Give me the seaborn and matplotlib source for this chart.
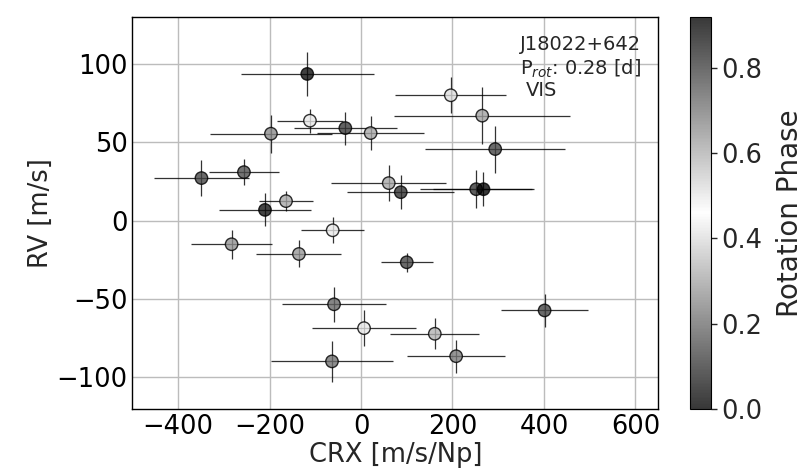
import numpy as np
import pandas as pd
import matplotlib
matplotlib.use("Agg")
import matplotlib.pyplot as plt
import seaborn as sns
from matplotlib.colors import LinearSegmentedColormap, Normalize
from matplotlib.cm import ScalarMappable

# Data
crx = [-117.6, -111.7, -34.3, -197.0, 21.0, -348.9, -256.0, -210.0, -164.0,
       196.3, 265.0, 293.4, 60.6, 86.9, 251.8, 267.8,
       -62.0, -283.0, -135.8, -59.0, 6.6, -63.5,
       100.0, 401.4, 161.3, 208.0]
crx_err = [145, 73, 112, 133, 117, 104, 76, 101, 59,
           121, 193, 153, 126, 117, 122, 111,
           69, 89, 93, 113, 113, 133,
           57, 96, 97, 107]
rv = [93.5, 63.7, 59.0, 55.4, 55.8, 27.1, 30.9, 6.8, 12.4,
      79.9, 66.9, 45.6, 23.9, 18.1, 20.0, 20.0,
      -6.2, -15.1, -21.3, -53.4, -68.6, -89.8,
      -26.6, -57.3, -72.2, -86.5]
rv_err = [14, 7.7, 10.5, 12, 11, 11.5, 8.4, 10.5, 6.4,
          11.4, 18, 15, 11.7, 11, 12, 11,
          8.3, 9.4, 8.6, 11, 11.3, 13,
          6, 10.7, 10, 10.5]
phase = [0.90, 0.42, 0.10, 0.25, 0.30, 0.12, 0.78, 0.03, 0.62,
         0.52, 0.63, 0.80, 0.30, 0.08, 0.83, 0.92,
         0.42, 0.66, 0.27, 0.18, 0.50, 0.72,
         0.12, 0.80, 0.32, 0.22]

star_name = "J18022+642"
prot_text = "P$_{rot}$: 0.28 [d]"
instrument = "VIS"

df = pd.DataFrame({"CRX": crx, "CRX_err": crx_err, "RV": rv,
                   "RV_err": rv_err, "phase": phase})

sns.set_style("white")
plt.rcParams["font.family"] = ["DejaVu Sans"]

cmap = LinearSegmentedColormap.from_list(
    "cyc_gray", [(0.0, 0.0, 0.0, 0.78), (1.0, 1.0, 1.0, 0.78), (0.0, 0.0, 0.0, 0.78)])
norm = Normalize(vmin=0.0, vmax=0.92)

fig = plt.figure(figsize=(8.12, 4.72), dpi=100)
ax = fig.add_axes([0.163, 0.134, 0.6477, 0.8306])
cax = fig.add_axes([0.8498, 0.134, 0.0259, 0.8306])

ax.errorbar(df["CRX"], df["RV"], xerr=df["CRX_err"], yerr=df["RV_err"],
            fmt="none", ecolor="black", elinewidth=0.9, alpha=0.8, zorder=2)
sns.scatterplot(data=df, x="CRX", y="RV", hue="phase", palette=cmap,
                hue_norm=norm, s=80, edgecolor=(0, 0, 0, 0.8), linewidth=1.0,
                legend=False, ax=ax, zorder=3)

ax.set_xlim(-500, 650)
ax.set_ylim(-120, 130)
ax.set_xticks([-400, -200, 0, 200, 400, 600])
ax.set_yticks([-100, -50, 0, 50, 100])
ax.grid(True, color="#bcbcbc", linewidth=1.0)
ax.set_axisbelow(True)
ax.tick_params(direction="in", labelsize=18.5, length=4, width=1, colors="black")
for sp in ax.spines.values():
    sp.set_color("black")
    sp.set_linewidth(1.0)
ax.set_xlabel("CRX [m/s/Np]", fontsize=18.5, labelpad=2)
ax.set_ylabel("RV [m/s]", fontsize=18.5, labelpad=2)

ax.text(0.737, 0.953, star_name + "\n" + prot_text, transform=ax.transAxes,
        ha="left", va="top", fontsize=14)
ax.text(0.749, 0.836, instrument, transform=ax.transAxes,
        ha="left", va="top", fontsize=14)

sm = ScalarMappable(norm=norm, cmap=cmap)
sm.set_array([])
cb = fig.colorbar(sm, cax=cax)
cb.set_ticks([0.0, 0.2, 0.4, 0.6, 0.8])
cb.ax.tick_params(labelsize=18.5, length=4, width=1)
cb.set_label("Rotation Phase", fontsize=20, labelpad=10)
cb.outline.set_edgecolor("black")

fig.savefig("out.png", dpi=100)
